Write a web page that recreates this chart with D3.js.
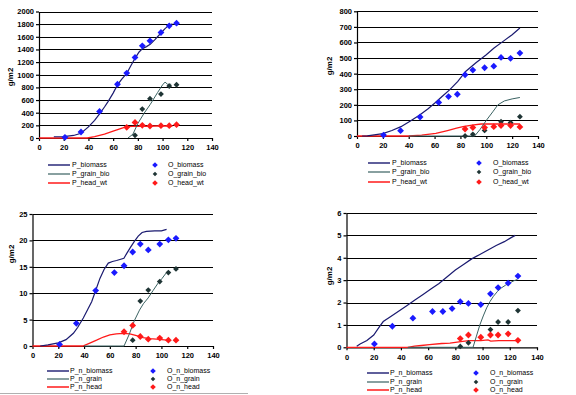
<!DOCTYPE html>
<html>
<head>
<meta charset="utf-8">
<script src="https://cdn.jsdelivr.net/npm/d3@7"></script>
<style>
  body { margin: 0; background: #fff; }
  svg { font-family: "Liberation Sans", Arial, sans-serif; }
</style>
</head>
<body>
<script>
// sampling days of the observations
var obsDaysA = [21, 34, 49, 63.5, 71, 77.7, 83.6, 89.8, 98.7, 105.4, 111.3];
var obsDaysB = [20.5, 33.7, 48.8, 63.2, 70.8, 77.6, 83.6, 89.6, 98.7, 105.8, 111.4, 118.8, 126];

// panel 1 - biomass (g/m2)
var obsBiomass = [10, 95, 420, 850, 1026, 1274, 1458, 1537, 1668, 1774, 1816];
var obsGrainDays1 = [77.7, 83.6, 89.8, 98.7, 105.4, 111.3];
var obsGrainBio = [42, 458, 621, 695, 821, 842];
var obsHeadDays1 = [71, 77.7, 83.6, 89.8, 98.7, 105.4, 111.3];
var obsHeadWt = [168, 247, 200, 190, 195, 195, 210];
var simBiomass1 = [[12,20],[20,22],[28,40],[34,75],[40,175],[45,280],[49,380],[53,490],[56,580],[60,710],[63.5,840],[67,930],[71,1020],[74,1130],[77.7,1260],[81,1360],[83.6,1410],[87,1445],[90,1480],[94,1560],[98.7,1660],[102,1730],[105,1780],[108,1805]];
var simGrain1 = [[72,0],[76,60],[80,230],[85,390],[90,530],[96,720],[100,840],[102,884],[104,850],[107,850]];
var simHead1 = [[0,0],[39,0],[45,20],[53,60],[60,110],[66,150],[71,180],[76,185],[85,185],[95,190],[108,190]];

// panel 2 - biomass (g/m2)
var obsBiomass2 = [6, 34, 122, 215, 253, 268, 393, 423, 438, 448, 504, 498, 532];
var obsGrainDays2 = [83.6, 89.6, 98.7, 111.4, 118.8, 126];
var obsGrainBio2 = [0, 11, 36, 92, 86, 124];
var obsHeadDays2 = [83.6, 89.6, 98.7, 105.8, 111.4, 118.8, 126];
var obsHeadWt2 = [45, 54, 54, 60, 67, 67, 58];
var simBiomass2 = [[4,0],[8,1],[12,6],[20,15],[27,35],[34,60],[41,95],[48.5,135],[55,175],[60,210],[66,255],[71.6,296],[78,350],[84,414],[92,470],[100,521],[106,565],[113,607],[120,650],[126,693]];
var simGrain2 = [[40,0],[91,0],[95,40],[100,100],[105,155],[109,200],[114,225],[120,238],[126,247]];
var simHead2 = [[0,0],[40,0],[50,6],[61,17],[70,35],[77,50],[82,60],[89,70],[96,77],[110,77],[126,77]];

// panel 3 - nitrogen (g/m2)
var obsNBiomass3 = [0.3, 4.3, 10.5, 13.9, 15.2, 17.8, 19.3, 18.2, 19.3, 20.1, 20.4];
var obsNGrain3 = [1.1, 8.5, 10.6, 12.2, 13.9, 14.6];
var obsNHead3 = [2.7, 3.9, 1.8, 1.3, 1.5, 1.1, 1.1];
var simNBiomass3 = [[6,0],[12,0.2],[20,0.6],[26,1.2],[31.7,2.4],[35,3.5],[39.4,5.3],[43,7],[45.9,8.4],[49,10.5],[52.3,12.8],[55.5,14.5],[58.8,15.7],[62,16.0],[65.2,16.2],[70.9,16.6],[73,17.5],[75.5,18.5],[79,19.8],[82,20.8],[85,21.5],[88.4,21.7],[94.8,21.8],[100,21.8],[104,22.1]];
var simNGrain3 = [[40,0],[71,0],[75,2.2],[79,4.8],[83,6.8],[86,8],[89.7,9.1],[93.5,10.5],[97.4,11.9],[100.5,12.8],[103.9,13.9],[105,14.1]];
var simNHead3 = [[0,0],[39,0],[44,0.5],[49.7,1.1],[55,1.7],[60,2.1],[65,2.3],[70.4,2.4],[75.5,2.3],[80,2.0],[85.8,1.6],[91,1.4],[96,1.3],[104.4,1.1]];

// panel 4 - nitrogen (g/m2)
var obsNBiomass4 = [0.15, 0.94, 1.30, 1.60, 1.60, 1.73, 2.04, 1.96, 1.91, 2.39, 2.67, 2.87, 3.18];
var obsNGrainDays4 = [83.6, 89.6, 105.8, 111.4, 118.8, 126];
var obsNGrain4 = [0.04, 0.2, 0.79, 1.13, 1.13, 1.64];
var obsNHead4 = [0.39, 0.55, 0.45, 0.55, 0.55, 0.6, 0.31];
var simNBiomass4 = [[7.5,0.05],[10,0.15],[15,0.3],[20,0.55],[24,0.9],[27,1.15],[32,1.35],[38,1.6],[44,1.85],[50,2.1],[56,2.35],[62,2.6],[68,2.85],[74,3.15],[80,3.45],[86,3.7],[92,3.95],[98,4.15],[104,4.35],[110,4.55],[116,4.72],[121,4.9],[124,5.0]];
var simNGrain4 = [[45,0],[93,0],[95.5,0.5],[98,1.0],[100.5,1.4],[103,1.76],[105.5,2.05],[108,2.28],[111,2.5],[114,2.66],[117,2.78],[120,2.88],[123,2.97],[125.6,3.03]];
var simNHead4 = [[0,0],[45,0],[50,0.05],[55,0.08],[61,0.12],[70,0.17],[76,0.19],[84,0.25],[90,0.3],[98.7,0.3],[104,0.33],[106,0.28],[112,0.3],[125.6,0.3]];

var xTicks = [0, 20, 40, 60, 80, 100, 120, 140];
var namesTop = ["P_biomass", "P_grain_bio", "P_head_wt", "O_biomass", "O_grain_bio", "O_head_wt"];
var namesBottomL = ["P_n_biomass", "P_n_grain", "P_n_head", "O_n_biomass", "O_n_grain", "O_n_head"];
var namesBottomR = ["P_n_biomass", "P_n_grain", "P_n_head", "O_n_biomass", "O_n_grain", "O_n_head"];

var cBio = "#1a1a70", cGrain = "#3a6262", cHead = "#ff1a1a";
var mBlue = "#1a1aff", mDark = "#1e3434", mRed = "#ff1a1a";

function zip(xs, ys) { return xs.map(function(d, i) { return [d, ys[i]]; }); }

function diamond(r) { return "M0," + (-r) + "L" + r + ",0L0," + r + "L" + (-r) + ",0Z"; }

function init() {
    var svg = d3.select("body").append("svg").attr("width", 576).attr("height", 395);

    drawPanel(svg, {
        x0: 39, x1: 212, y0: 138, y1: 11.5, yMax: 2000, yStep: 200,
        labelX: 10, labelY: 77,
        lines: [simBiomass1, simGrain1, simHead1],
        points: [zip(obsDaysA, obsBiomass), zip(obsGrainDays1, obsGrainBio), zip(obsHeadDays1, obsHeadWt)],
        names: namesTop,
        leg: { lx: 48, tx: 72, mx: 155, mtx: 168, ys: [165, 174, 183] }
    });
    drawPanel(svg, {
        x0: 357, x1: 538, y0: 136, y1: 11.3, yMax: 800, yStep: 100,
        labelX: 329, labelY: 66,
        lines: [simBiomass2, simGrain2, simHead2],
        points: [zip(obsDaysB, obsBiomass2), zip(obsGrainDays2, obsGrainBio2), zip(obsHeadDays2, obsHeadWt2)],
        names: namesTop,
        leg: { lx: 368, tx: 392, mx: 479, mtx: 493, ys: [163, 172, 182] }
    });
    drawPanel(svg, {
        x0: 32.5, x1: 213, y0: 346, y1: 214, yMax: 25, yStep: 5,
        labelX: 11, labelY: 254,
        lines: [simNBiomass3, simNGrain3, simNHead3],
        points: [zip(obsDaysA, obsNBiomass3), zip(obsGrainDays1, obsNGrain3), zip(obsHeadDays1, obsNHead3)],
        names: namesBottomL,
        leg: { lx: 47, tx: 70, mx: 153, mtx: 167, ys: [371, 379, 387] }
    });
    drawPanel(svg, {
        x0: 346.5, x1: 537, y0: 347.3, y1: 213, yMax: 6, yStep: 1,
        labelX: 329, labelY: 276,
        lines: [simNBiomass4, simNGrain4, simNHead4],
        points: [zip(obsDaysB, obsNBiomass4), zip(obsNGrainDays4, obsNGrain4), zip(obsDaysB.slice(6), obsNHead4)],
        names: namesBottomR,
        leg: { lx: 367, tx: 390, mx: 476, mtx: 490, ys: [373, 382, 390] }
    });

    svg.append("line").attr("x1", 0).attr("x2", 248).attr("y1", 393.5).attr("y2", 393.5)
        .attr("stroke", "#b0b0b0").attr("stroke-width", 1);
}

function drawPanel(svg, cfg) {
    var x = d3.scaleLinear().domain([0, 140]).range([cfg.x0, cfg.x1]);
    var y = d3.scaleLinear().domain([0, cfg.yMax]).range([cfg.y0, cfg.y1]);
    var yTicks = d3.range(0, cfg.yMax + cfg.yStep / 2, cfg.yStep);
    var g = svg.append("g");
    var plain = function(d) { return String(d); };

    // gridlines
    g.selectAll(".grid").data(yTicks.slice(1)).enter().append("line")
        .attr("x1", cfg.x0).attr("x2", cfg.x1)
        .attr("y1", function(d) { return Math.round(y(d)) + 0.5; })
        .attr("y2", function(d) { return Math.round(y(d)) + 0.5; })
        .attr("stroke", "#000").attr("stroke-width", 1);

    var yAxis = g.append("g").attr("transform", "translate(" + cfg.x0 + ",0)")
        .call(d3.axisLeft(y).tickValues(yTicks).tickFormat(plain).tickSize(3).tickSizeOuter(0).tickPadding(2));
    var xAxis = g.append("g").attr("transform", "translate(0," + cfg.y0 + ")")
        .call(d3.axisBottom(x).tickValues(xTicks).tickFormat(plain).tickSize(3).tickSizeOuter(0).tickPadding(4));
    [yAxis, xAxis].forEach(function(a) {
        a.selectAll("path, line").attr("stroke", "#000").attr("stroke-width", 1.2);
        a.selectAll("text").attr("font-size", "7.5px").attr("font-weight", "bold")
            .attr("font-family", "Liberation Sans, Arial, sans-serif").attr("fill", "#000");
    });

    g.append("text").attr("transform", "translate(" + cfg.labelX + "," + cfg.labelY + ") rotate(-90)")
        .attr("text-anchor", "middle").attr("dy", "0.35em")
        .attr("font-size", "8px").attr("font-weight", "bold").text("g/m2");

    var line = d3.line().x(function(d) { return x(d[0]); }).y(function(d) { return y(d[1]); });
    var lineColors = [cBio, cGrain, cHead];
    var lineWidths = [1.2, 1, 1.3];
    // head and grain go under biomass
    [2, 1, 0].forEach(function(i) {
        g.append("path").datum(cfg.lines[i]).attr("d", line).attr("fill", "none")
            .attr("stroke", lineColors[i]).attr("stroke-width", lineWidths[i]);
    });

    var markColors = [mBlue, mDark, mRed];
    var markSizes = [3.4, 2.9, 3.4];
    [0, 1, 2].forEach(function(i) {
        g.selectAll(".m" + i).data(cfg.points[i]).enter().append("path")
            .attr("d", diamond(markSizes[i]))
            .attr("transform", function(d) { return "translate(" + x(d[0]) + "," + y(d[1]) + ")"; })
            .attr("fill", markColors[i]);
    });

    // legend
    var L = cfg.leg;
    [0, 1, 2].forEach(function(i) {
        g.append("line").attr("x1", L.lx).attr("x2", L.lx + 22)
            .attr("y1", L.ys[i]).attr("y2", L.ys[i])
            .attr("stroke", lineColors[i]).attr("stroke-width", lineWidths[i] + 0.2);
        g.append("text").attr("x", L.tx).attr("y", L.ys[i]).attr("dy", "0.35em")
            .attr("font-size", "7px").text(cfg.names[i]);
        g.append("path").attr("d", diamond(markSizes[i] - 0.6))
            .attr("transform", "translate(" + L.mx + "," + L.ys[i] + ")")
            .attr("fill", markColors[i]);
        g.append("text").attr("x", L.mtx).attr("y", L.ys[i]).attr("dy", "0.35em")
            .attr("font-size", "7px").text(cfg.names[i + 3]);
    });
}

window.onload = init;
</script>
</body>
</html>
